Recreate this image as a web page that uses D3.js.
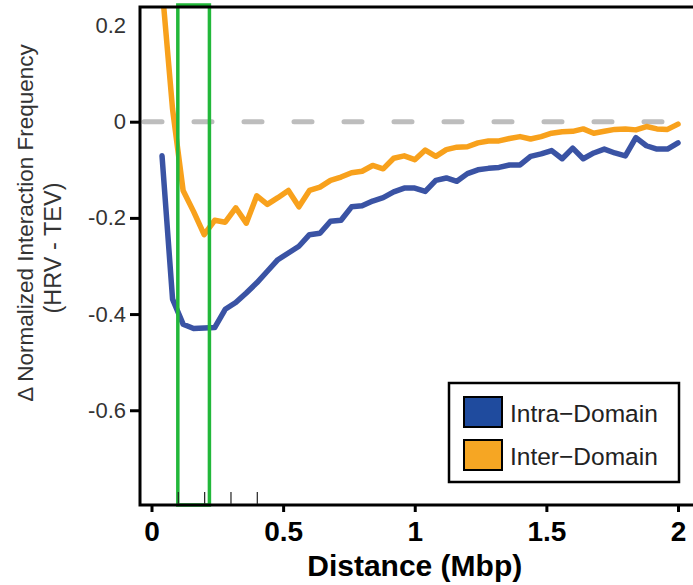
<!DOCTYPE html>
<html>
<head>
<meta charset="utf-8">
<script src="https://cdn.jsdelivr.net/npm/d3@7"></script>
<style>
  html, body { margin: 0; padding: 0; background: #fff; }
  svg { display: block; }
</style>
</head>
<body>
<svg id="chart" width="693" height="585"></svg>
<script>
// ---------- data ----------
const distances = [0.04,0.08,0.12,0.16,0.20,0.24,0.28,0.32,0.36,0.40,
  0.44,0.48,0.52,0.56,0.60,0.64,0.68,0.72,0.76,0.80,
  0.84,0.88,0.92,0.96,1.00,1.04,1.08,1.12,1.16,1.20,
  1.24,1.28,1.32,1.36,1.40,1.44,1.48,1.52,1.56,1.60,
  1.64,1.68,1.72,1.76,1.80,1.84,1.88,1.92,1.96,2.00];

const intraDomain = [-0.071,-0.369,-0.421,-0.430,-0.429,-0.428,-0.390,-0.376,-0.356,-0.335,
  -0.311,-0.287,-0.273,-0.259,-0.235,-0.232,-0.207,-0.205,-0.177,-0.175,
  -0.165,-0.158,-0.146,-0.138,-0.138,-0.145,-0.122,-0.117,-0.124,-0.108,
  -0.100,-0.097,-0.095,-0.090,-0.090,-0.072,-0.067,-0.060,-0.077,-0.055,
  -0.077,-0.065,-0.057,-0.065,-0.071,-0.033,-0.050,-0.057,-0.057,-0.044];

const interDomain = [0.280,0.026,-0.143,-0.187,-0.235,-0.205,-0.209,-0.179,-0.211,-0.154,
  -0.172,-0.158,-0.143,-0.177,-0.143,-0.136,-0.122,-0.115,-0.106,-0.103,
  -0.091,-0.098,-0.076,-0.071,-0.079,-0.059,-0.072,-0.058,-0.053,-0.052,
  -0.044,-0.040,-0.040,-0.035,-0.031,-0.036,-0.031,-0.024,-0.021,-0.020,
  -0.015,-0.024,-0.020,-0.016,-0.015,-0.017,-0.010,-0.015,-0.016,-0.005];

const xTickValues = [0, 0.5, 1, 1.5, 2];
const xTickLabels = ["0", "0.5", "1", "1.5", "2"];
const xMinorTicks = [0.1, 0.2, 0.3, 0.4];
const yTickValues = [0.2, 0, -0.2, -0.4, -0.6];
const yTickLabels = ["0.2", "0", "-0.2", "-0.4", "-0.6"];
const highlightRange = [0.1, 0.22];
const seriesNames = ["Intra\u2212Domain", "Inter\u2212Domain"];
const seriesColors = ["#3a53a4", "#f8a11c"];
const legendColors = ["#1f4b9e", "#f6a623"];

// ---------- layout ----------
const svg = d3.select("#chart");
const W = 693, H = 585;
const plotLeft = 140, plotTop = 7, plotBottom = 505, plotRight = 693;

const x = d3.scaleLinear().domain([0, 2]).range([151.5, 678]);
const y = d3.scaleLinear().domain([-0.797, 0.2385]).range([plotBottom, plotTop]);

svg.append("rect").attr("width", W).attr("height", H).attr("fill", "#fff");

svg.append("defs").append("clipPath").attr("id", "clip")
  .append("rect").attr("x", plotLeft).attr("y", plotTop)
  .attr("width", plotRight - plotLeft).attr("height", plotBottom - plotTop);

// zero dashed line
svg.append("line")
  .attr("x1", 144).attr("x2", plotRight)
  .attr("y1", y(0)).attr("y2", y(0))
  .attr("stroke", "#bdbdbd").attr("stroke-width", 5)
  .attr("stroke-linecap", "round")
  .attr("stroke-dasharray", "18,32");

// series lines
const g = svg.append("g").attr("clip-path", "url(#clip)");
const line = d3.line().x((d, i) => x(distances[i])).y(d => y(d));
[intraDomain, interDomain].forEach((s, k) => {
  g.append("path").datum(s)
    .attr("d", line)
    .attr("fill", "none")
    .attr("stroke", seriesColors[k])
    .attr("stroke-width", 5.5)
    .attr("stroke-linejoin", "round")
    .attr("stroke-linecap", "round");
});

// green highlight box
svg.append("rect")
  .attr("x", x(highlightRange[0])).attr("y", 5)
  .attr("width", x(highlightRange[1]) - x(highlightRange[0]))
  .attr("height", plotBottom - 5)
  .attr("fill", "none").attr("stroke", "#22b83a").attr("stroke-width", 3.5);

// frame
const frame = svg.append("g").attr("stroke", "#000").attr("stroke-width", 3).attr("fill", "none");
frame.append("path").attr("d", `M${plotRight},${plotTop}H${plotLeft}V${plotBottom}H${plotRight}`);

// x axis
const xAxis = d3.axisBottom(x).tickValues(xTickValues)
  .tickFormat((d, i) => xTickLabels[i]).tickSize(7).tickPadding(8);
const xg = svg.append("g").attr("transform", `translate(0,${plotBottom})`).call(xAxis);
xg.select(".domain").remove();
xg.selectAll(".tick line").attr("stroke", "#000").attr("stroke-width", 3);
xg.selectAll(".tick text")
  .attr("font-family", "Liberation Sans, Arial, sans-serif")
  .attr("font-size", 28).attr("font-weight", "bold").attr("fill", "#000")
  .attr("dy", null).attr("y", 36);

// minor ticks (inside)
const xMinor = d3.axisTop(x).tickValues(xMinorTicks).tickSize(12).tickFormat("");
const xm = svg.append("g").attr("transform", `translate(0,${plotBottom - 1})`).call(xMinor);
xm.select(".domain").remove();
xm.selectAll(".tick line").attr("stroke", "#222").attr("stroke-width", 1.2);

// y axis
const yAxis = d3.axisLeft(y).tickValues(yTickValues)
  .tickFormat((d, i) => yTickLabels[i]).tickSize(10).tickPadding(4);
const yg = svg.append("g").attr("transform", `translate(${plotLeft},0)`).call(yAxis);
yg.select(".domain").remove();
yg.selectAll(".tick line").attr("stroke", "#000").attr("stroke-width", 3)
  .attr("opacity", d => d > 0.1 ? 0 : 1);
yg.selectAll(".tick text")
  .attr("font-family", "Liberation Sans, Arial, sans-serif")
  .attr("font-size", 22).attr("fill", "#333");

// x axis title
svg.append("text")
  .attr("x", x(1)).attr("y", 576)
  .attr("text-anchor", "middle")
  .attr("font-family", "Liberation Sans, Arial, sans-serif")
  .attr("font-size", 30).attr("font-weight", "bold").attr("fill", "#000")
  .text("Distance (Mbp)");

// y axis title
svg.append("text")
  .attr("transform", "translate(33,223) rotate(-90)")
  .attr("text-anchor", "middle")
  .attr("font-family", "Liberation Sans, Arial, sans-serif")
  .attr("font-size", 22.5).attr("fill", "#333")
  .text("\u0394 Normalized Interaction Frequency");
svg.append("text")
  .attr("transform", "translate(61,248) rotate(-90)")
  .attr("text-anchor", "middle")
  .attr("font-family", "Liberation Sans, Arial, sans-serif")
  .attr("font-size", 23.5).attr("fill", "#333")
  .text("(HRV - TEV)");

// legend
const lg = svg.append("g");
lg.append("rect").attr("x", 449).attr("y", 383).attr("width", 230).attr("height", 99)
  .attr("fill", "#fff").attr("stroke", "#000").attr("stroke-width", 2.5);
seriesNames.forEach((name, i) => {
  const yy = 397 + i * 43;
  lg.append("rect").attr("x", 464).attr("y", yy).attr("width", 38).attr("height", 30)
    .attr("fill", legendColors[i]).attr("stroke", "#000").attr("stroke-width", 2);
  lg.append("text").attr("x", 510).attr("y", yy + 25)
    .attr("font-family", "Liberation Sans, Arial, sans-serif")
    .attr("font-size", 24.5).attr("fill", "#222")
    .text(name);
});
</script>
</body>
</html>
